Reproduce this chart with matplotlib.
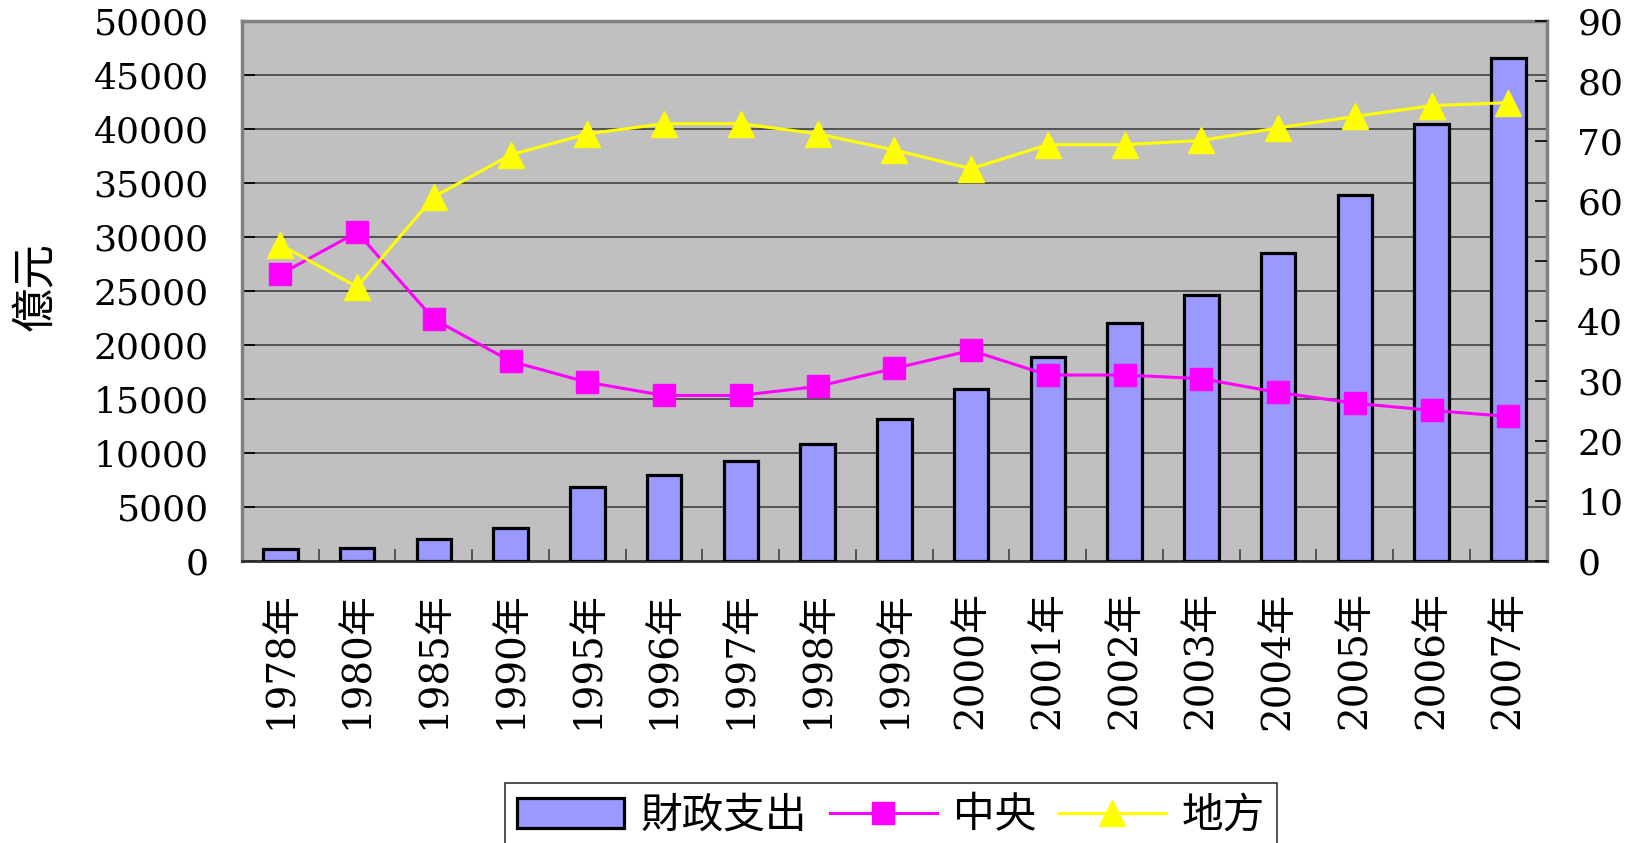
import matplotlib
matplotlib.use("Agg")
import matplotlib.pyplot as plt
import numpy as np
from matplotlib.patches import Patch
from matplotlib.lines import Line2D

# 데이터
years = ["1978年", "1980年", "1985年", "1990年", "1995年", "1996年", "1997年", "1998年",
         "1999年", "2000年", "2001年", "2002年", "2003年", "2004年", "2005年", "2006年", "2007年"]
spending = [1122, 1229, 2004, 3084, 6824, 7938, 9234, 10798,
            13188, 15887, 18903, 22053, 24650, 28487, 33930, 40423, 46600]
central = [47.8, 54.8, 40.3, 33.3, 29.8, 27.6, 27.6, 29.1,
           32.1, 35.1, 31.0, 31.0, 30.4, 28.1, 26.3, 25.1, 24.1]
local = [52.7, 45.7, 60.7, 67.7, 71.2, 72.9, 72.9, 71.2,
         68.5, 65.4, 69.4, 69.4, 70.1, 72.2, 74.1, 75.9, 76.4]
left_ticks = list(range(0, 50001, 5000))
right_ticks = list(range(0, 91, 10))

plt.rcParams["font.family"] = ["DejaVu Serif", "Noto Sans CJK SC"]

fig = plt.figure(figsize=(16.35, 8.43), dpi=100)
ax = fig.add_axes([0.148, 0.3345, 0.798, 0.6405])
ax.set_facecolor("#C0C0C0")

x = np.arange(len(years))
ax.bar(x, spending, width=0.45, color="#9999FF", edgecolor="black", linewidth=2.3, zorder=3)
ax.set_xlim(-0.5, len(years) - 0.5)
ax.set_ylim(0, 50000)
ax.set_yticks(left_ticks)
ax.set_yticklabels([str(v) for v in left_ticks])
ax.yaxis.grid(True, color="#404040", linewidth=1.2, zorder=0)
ax.set_axisbelow(True)

# x축 라벨 (세로)
ax.set_xticks(x)
ax.set_xticklabels(years, rotation=90, fontsize=28)
ax.set_xticks(np.arange(-0.5, len(years)), minor=True)
ax.tick_params(axis="x", which="major", length=0, pad=22)
ax.tick_params(axis="x", which="minor", direction="in", length=9, width=1.2, color="#404040")
ax.tick_params(axis="y", direction="in", length=9, width=1.2, labelsize=26, pad=24)

for side in ["top", "right", "left"]:
    ax.spines[side].set_color("#808080")
    ax.spines[side].set_linewidth(2.5)
ax.spines["bottom"].set_color("#303030")
ax.spines["bottom"].set_linewidth(2)

ax2 = ax.twinx()
ax2.plot(x, central, color="#FF00FF", linewidth=2.2, marker="s", markersize=16, zorder=4)
ax2.plot(x, local, color="#FFFF00", linewidth=2.2, marker="^", markersize=19, zorder=4)
ax2.set_ylim(0, 90)
ax2.set_yticks(right_ticks)
ax2.tick_params(axis="y", direction="in", length=9, width=1.2, labelsize=26, pad=22)
for side in ["top", "right", "left", "bottom"]:
    ax2.spines[side].set_visible(False)

fig.text(0.022, 0.66, "億元", rotation=90, fontsize=32, ha="center", va="center",
         family=["Noto Sans CJK SC"])

handles = [
    Patch(facecolor="#9999FF", edgecolor="black", linewidth=2.3),
    Line2D([], [], color="#FF00FF", linewidth=2.2, marker="s", markersize=16),
    Line2D([], [], color="#FFFF00", linewidth=2.2, marker="^", markersize=19),
]
leg = fig.legend(handles, ["財政支出", "中央", "地方"], loc="upper center",
                 bbox_to_anchor=(0.545, 0.071), borderaxespad=0, ncol=3,
                 fancybox=False, frameon=True, edgecolor="black",
                 prop={"family": "Noto Sans CJK SC", "size": 30},
                 handlelength=2.57, handletextpad=0.38, columnspacing=0.55,
                 borderpad=0.3)
leg.get_frame().set_linewidth(1.2)

fig.savefig("out.png", dpi=100)
